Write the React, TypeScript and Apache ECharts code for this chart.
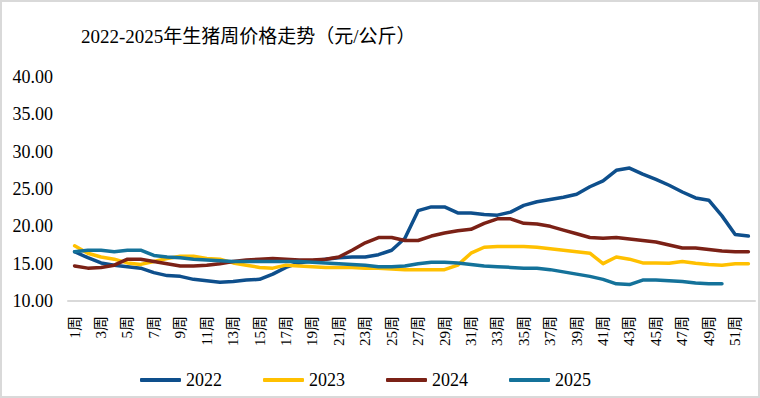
import React, { useEffect, useRef } from "react";
import * as echarts from "echarts";

const weeks: string[] = Array.from({ length: 52 }, (_, i) => `${i + 1}周`);

const s2022: number[] = [
  16.6, 15.8, 15.1, 14.8, 14.6, 14.4, 13.8, 13.4, 13.3, 12.9,
  12.7, 12.5, 12.6, 12.8, 12.9, 13.6, 14.5, 15.1, 15.4, 15.6,
  15.8, 15.9, 15.9, 16.2, 16.8, 18.4, 22.1, 22.6, 22.6, 21.8,
  21.8, 21.6, 21.5, 21.9, 22.8, 23.3, 23.6, 23.9, 24.3, 25.3,
  26.1, 27.5, 27.8, 27.0, 26.3, 25.5, 24.6, 23.8, 23.5, 21.4,
  18.9, 18.7,
];
const s2023: number[] = [
  17.4, 16.4, 15.9, 15.6, 15.1, 14.9, 15.3, 15.7, 16.0, 16.0,
  15.7, 15.6, 15.1, 14.8, 14.5, 14.4, 14.8, 14.7, 14.6, 14.5,
  14.5, 14.5, 14.4, 14.4, 14.3, 14.2, 14.2, 14.2, 14.2, 14.8,
  16.4, 17.2, 17.3, 17.3, 17.3, 17.2, 17.0, 16.8, 16.6, 16.4,
  15.0, 15.9, 15.6, 15.1, 15.1, 15.05, 15.3, 15.05, 14.9, 14.8,
  15.0, 15.0,
];
const s2024: number[] = [
  14.7, 14.4, 14.5, 14.8, 15.6, 15.6, 15.3, 15.0, 14.7, 14.7,
  14.8, 15.0, 15.3, 15.5, 15.6, 15.7, 15.6, 15.5, 15.5, 15.6,
  15.9, 16.8, 17.8, 18.5, 18.5, 18.1, 18.1, 18.7, 19.1, 19.4,
  19.6, 20.4, 21.0, 21.0, 20.4, 20.3, 20.0, 19.5, 19.0, 18.5,
  18.4, 18.5, 18.3, 18.1, 17.9, 17.5, 17.1, 17.1, 16.9, 16.7,
  16.6, 16.6,
];
const s2025: number[] = [
  16.6, 16.8, 16.8, 16.6, 16.8, 16.8, 16.1, 15.9, 15.8, 15.6,
  15.5, 15.4, 15.3, 15.3, 15.3, 15.3, 15.3, 15.3, 15.2, 15.1,
  15.0, 14.9, 14.8, 14.6, 14.6, 14.7, 15.0, 15.2, 15.2, 15.1,
  14.9, 14.7, 14.6, 14.5, 14.4, 14.4, 14.2, 13.9, 13.6, 13.3,
  12.9, 12.3, 12.2, 12.8, 12.8, 12.7, 12.6, 12.4, 12.3, 12.3,
];

const seriesNames = ["2022", "2023", "2024", "2025"];
const seriesData = [s2022, s2023, s2024, s2025];
const colors = ["#0e4f8c", "#ffc000", "#7b2116", "#14729a"];

const FONT = "'Liberation Serif', 'Times New Roman', 'Noto Sans CJK SC', serif";

export default function App() {
  const ref = useRef<HTMLDivElement>(null);
  useEffect(() => {
    if (!ref.current) return;
    const chart = echarts.init(ref.current, undefined, { renderer: "svg" });
    chart.setOption({
      animation: false,
      backgroundColor: "#ffffff",
      title: {
        text: "2022-2025年生猪周价格走势（元/公斤）",
        left: 76,
        top: 22,
        textStyle: {
          fontFamily: FONT,
          fontSize: 19,
          fontWeight: "normal",
          color: "#000",
        },
      },
      legend: {
        data: seriesNames,
        left: 135,
        top: 366,
        icon: "roundRect",
        itemWidth: 41,
        itemHeight: 4,
        itemGap: 41,
        textStyle: { fontFamily: FONT, fontSize: 18, color: "#000" },
      },
      grid: { left: 68, right: 5, top: 77, bottom: 97, containLabel: false },
      xAxis: {
        type: "category",
        data: weeks,
        boundaryGap: true,
        axisLine: { show: true, lineStyle: { color: "#d9d9d9", width: 2 } },
        axisTick: { show: false },
        axisLabel: {
          interval: 1,
          rotate: 90,
          margin: 15,
          fontSize: 15,
          color: "#000",
          fontFamily: FONT,
        },
      },
      yAxis: {
        type: "value",
        min: 10,
        max: 40,
        interval: 5,
        axisLine: { show: false },
        axisTick: { show: false },
        splitLine: { show: false },
        axisLabel: {
          margin: 15,
          fontSize: 18,
          color: "#000",
          fontFamily: FONT,
          formatter: (v: number) => v.toFixed(2),
        },
      },
      series: seriesData.map((d, i) => ({
        name: seriesNames[i],
        type: "line",
        data: d,
        symbol: "none",
        smooth: false,
        color: colors[i],
        lineStyle: { width: 3.5, color: colors[i], cap: "round", join: "round" },
        itemStyle: { color: colors[i] },
      })),
    });
    return () => chart.dispose();
  }, []);
  return (
    <div style={{ position: "fixed", left: 0, top: 0, width: 760, height: 398 }}>
      <div ref={ref} style={{ position: "absolute", left: 0, top: 0, width: 760, height: 398 }} />
      <div
        style={{
          position: "absolute",
          left: 0,
          top: 0,
          width: 760,
          height: 398,
          boxSizing: "border-box",
          border: "2px solid #d9d9d9",
          pointerEvents: "none",
        }}
      />
    </div>
  );
}
